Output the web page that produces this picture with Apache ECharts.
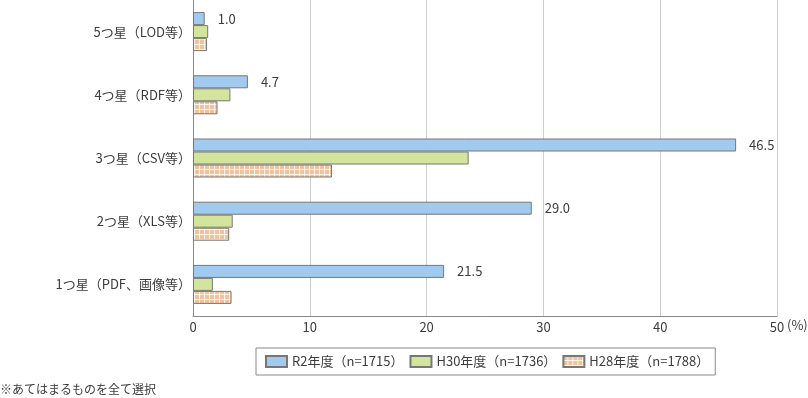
<!DOCTYPE html>
<html>
<head>
<meta charset="utf-8">
<script src="https://cdn.jsdelivr.net/npm/echarts@6/dist/echarts.min.js"></script>
<style>
  html, body { margin: 0; padding: 0; background: #fff; }
  #chart { width: 808px; height: 398px; }
</style>
</head>
<body>
<div id="chart"></div>
<script>
const FONT_FAMILY = "'Noto Sans CJK JP', 'Noto Sans', sans-serif"

const categories = ['5つ星（LOD等）', '4つ星（RDF等）', '3つ星（CSV等）', '2つ星（XLS等）', '1つ星（PDF、画像等）']
const seriesNames = ['R2年度（n=1715）', 'H30年度（n=1736）', 'H28年度（n=1788）']
const r2Values = [1.0, 4.7, 46.5, 29.0, 21.5]
const h30Values = [1.3, 3.2, 23.6, 3.4, 1.7]
const h28Values = [1.2, 2.1, 11.9, 3.1, 3.3]
const xTicks = [0, 10, 20, 30, 40, 50]

const COLORS = {
  r2: '#a0cbee',
  h30: '#d3e59c',
  h28: '#f1c39d',
  border: '#777777',
  grid: '#cfcfcf',
  text: '#3c3c3c',
}

// orange fill with a white grid, like the print pattern
function makeGridPattern() {
  const c = document.createElement('canvas')
  c.width = 5
  c.height = 5
  const ctx = c.getContext('2d')
  ctx.fillStyle = COLORS.h28
  ctx.fillRect(0, 0, 5, 5)
  ctx.fillStyle = 'rgba(255,255,255,0.8)'
  ctx.fillRect(4, 0, 1, 5)
  ctx.fillRect(0, 4, 5, 1)
  return { image: c, repeat: 'repeat' }
}

const chart = echarts.init(document.getElementById('chart'))

const barBase = {
  type: 'bar',
  barWidth: 13,
  barGap: '0%',
  barCategoryGap: '38%',
  animation: false,
}

chart.setOption({
  textStyle: { fontFamily: FONT_FAMILY },
  grid: { left: 193, right: 31, top: 0, bottom: 82 },
  legend: {
    left: 256,
    top: 348,
    padding: [7, 6, 7, 9],
    itemGap: 6,
    itemWidth: 21,
    itemHeight: 11,
    icon: 'rect',
    borderColor: '#8a8a8a',
    borderWidth: 1,
    borderRadius: 0,
    textStyle: { fontFamily: FONT_FAMILY, fontSize: 13, color: COLORS.text },
    data: seriesNames,
  },
  xAxis: {
    type: 'value',
    min: 0,
    max: 50,
    interval: 10,
    axisLine: { show: true, lineStyle: { color: '#8a8a8a', width: 1 } },
    axisTick: { show: false },
    axisLabel: {
      fontFamily: FONT_FAMILY, fontSize: 13, color: COLORS.text, margin: 5,
      formatter: v => xTicks.includes(v) ? String(v) : '',
    },
    splitLine: { lineStyle: { color: COLORS.grid, width: 1 } },
  },
  yAxis: {
    type: 'category',
    data: categories,
    inverse: true,
    axisLine: { show: true, lineStyle: { color: '#8a8a8a', width: 1 } },
    axisTick: { show: false },
    axisLabel: { fontFamily: FONT_FAMILY, fontSize: 13, color: COLORS.text, margin: 2 },
  },
  graphic: [{
    type: 'text',
    left: 787,
    top: 319,
    style: { text: '(%)', font: `13px ${FONT_FAMILY}`, fill: COLORS.text },
  }, {
    type: 'text',
    left: 0,
    top: 383,
    style: { text: '※あてはまるものを全て選択', font: `12px ${FONT_FAMILY}`, fill: COLORS.text },
  }],
  series: [{
    ...barBase,
    name: seriesNames[0],
    data: r2Values,
    itemStyle: { color: COLORS.r2, borderColor: COLORS.border, borderWidth: 1 },
    label: {
      show: true, position: 'right', distance: 13,
      fontFamily: FONT_FAMILY, fontSize: 13, color: COLORS.text,
      formatter: p => p.value.toFixed(1),
    },
  }, {
    ...barBase,
    name: seriesNames[1],
    data: h30Values,
    itemStyle: { color: COLORS.h30, borderColor: COLORS.border, borderWidth: 1 },
  }, {
    ...barBase,
    name: seriesNames[2],
    data: h28Values,
    itemStyle: { color: makeGridPattern(), borderColor: COLORS.border, borderWidth: 1 },
  }],
})
</script>
</body>
</html>
